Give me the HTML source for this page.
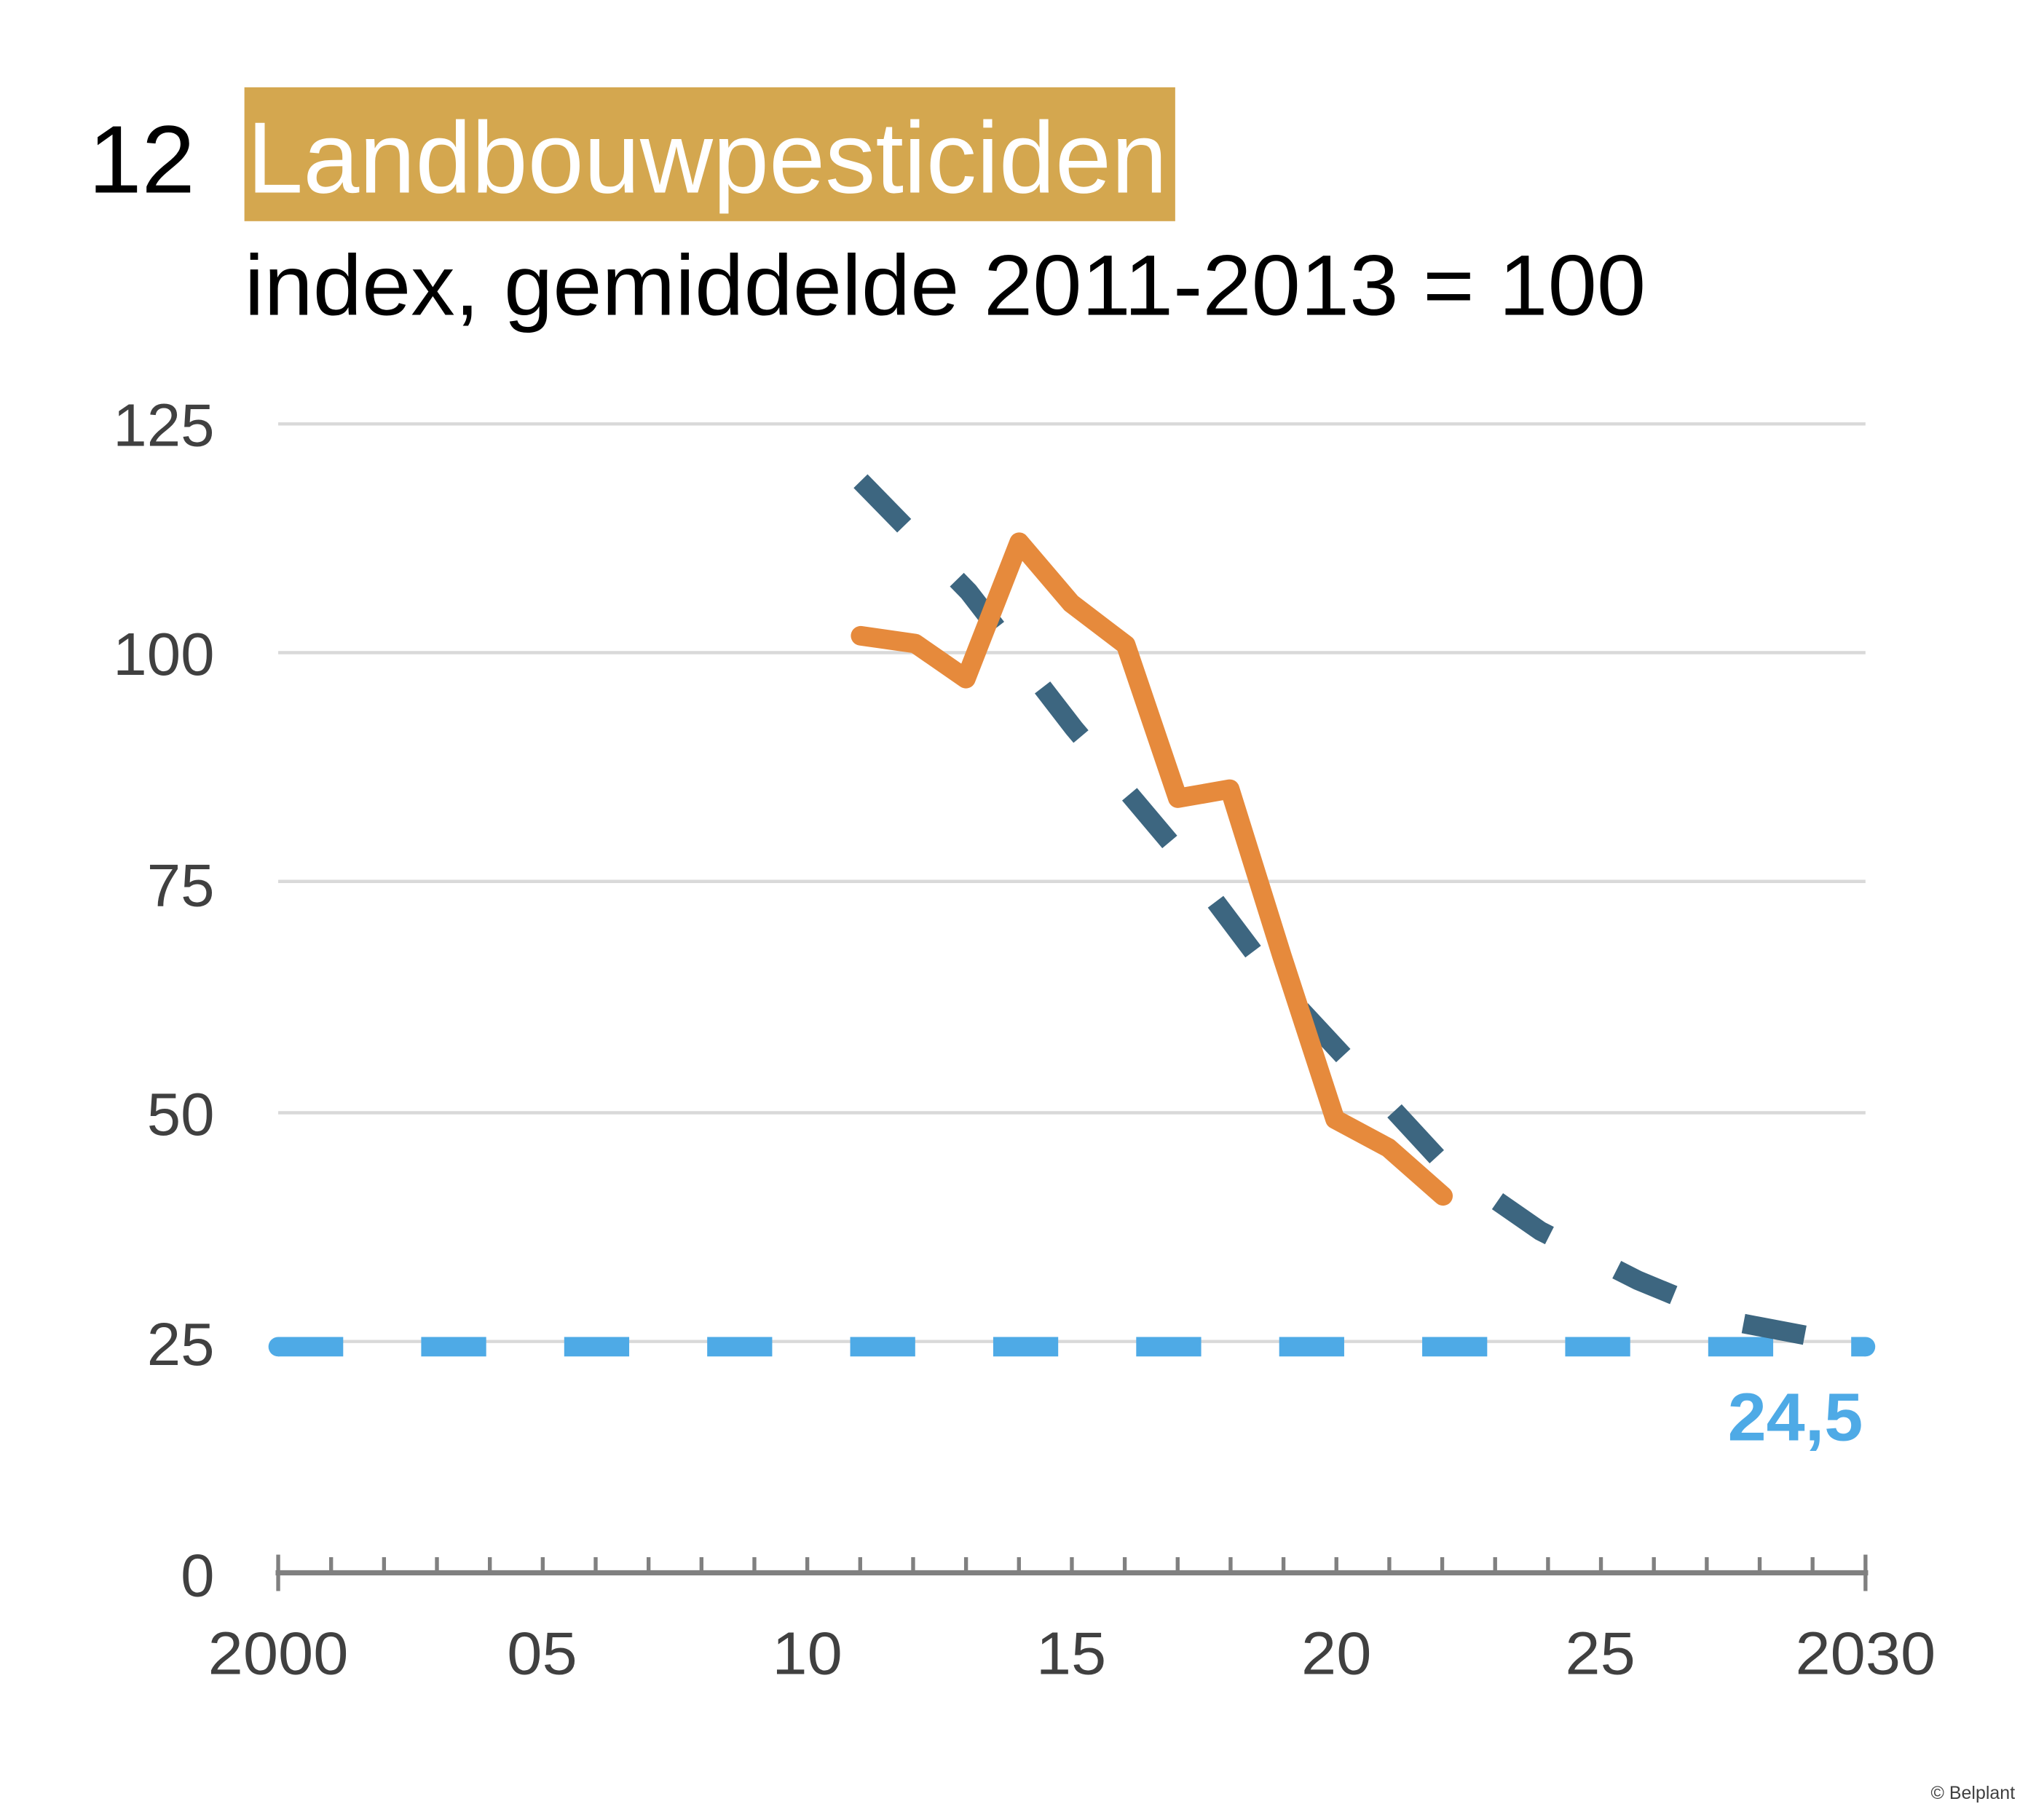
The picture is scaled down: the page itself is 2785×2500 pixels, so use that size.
<!DOCTYPE html>
<html><head><meta charset="utf-8"><style>html,body{margin:0;padding:0;background:#fff}svg{display:block}</style></head>
<body>
<svg width="2785" height="2500" viewBox="0 0 1560 1400" xmlns="http://www.w3.org/2000/svg" font-family="'Liberation Sans', sans-serif">
<rect width="1560" height="1400" fill="#fff"/>
<text x="68" y="148" font-size="74" fill="#000" textLength="82" lengthAdjust="spacingAndGlyphs">12</text>
<rect x="188" y="67" width="716" height="103" fill="#d4a74f"/>
<text x="190" y="148" font-size="78" fill="#fff" textLength="708" lengthAdjust="spacingAndGlyphs">Landbouwpesticiden</text>
<text x="188" y="242" font-size="66" fill="#000" textLength="1078" lengthAdjust="spacingAndGlyphs">index, gemiddelde 2011-2013 = 100</text>
<g stroke="#d9d9d9" stroke-width="2.5">
<line x1="214" y1="326" x2="1435" y2="326"/>
<line x1="214" y1="502" x2="1435" y2="502"/>
<line x1="214" y1="678" x2="1435" y2="678"/>
<line x1="214" y1="856" x2="1435" y2="856"/>
<line x1="214" y1="1032" x2="1435" y2="1032"/>
</g>
<g font-size="46" fill="#404040" text-anchor="end">
<text x="165" y="343" textLength="78" lengthAdjust="spacingAndGlyphs">125</text>
<text x="165" y="519" textLength="78" lengthAdjust="spacingAndGlyphs">100</text>
<text x="165" y="697" textLength="52" lengthAdjust="spacingAndGlyphs">75</text>
<text x="165" y="873" textLength="52" lengthAdjust="spacingAndGlyphs">50</text>
<text x="165" y="1050" textLength="52" lengthAdjust="spacingAndGlyphs">25</text>
<text x="165" y="1228" textLength="26" lengthAdjust="spacingAndGlyphs">0</text>
</g>
<line x1="212" y1="1210" x2="1437" y2="1210" stroke="#808080" stroke-width="4"/>
<g stroke="#808080" stroke-width="3">
<line x1="214" y1="1196" x2="214" y2="1224"/>
<line x1="1435" y1="1196" x2="1435" y2="1224"/>
<path d="M254.7 1198V1210M295.4 1198V1210M336.1 1198V1210M376.8 1198V1210M417.5 1198V1210M458.2 1198V1210M498.9 1198V1210M539.6 1198V1210M580.3 1198V1210M621 1198V1210M661.7 1198V1210M702.4 1198V1210M743.1 1198V1210M783.8 1198V1210M824.5 1198V1210M865.2 1198V1210M905.9 1198V1210M946.6 1198V1210M987.3 1198V1210M1028 1198V1210M1068.7 1198V1210M1109.4 1198V1210M1150.1 1198V1210M1190.8 1198V1210M1231.5 1198V1210M1272.2 1198V1210M1312.9 1198V1210M1353.6 1198V1210M1394.3 1198V1210"/>
</g>
<g font-size="46" fill="#404040" text-anchor="middle">
<text x="214" y="1288" textLength="108" lengthAdjust="spacingAndGlyphs">2000</text>
<text x="417" y="1288" textLength="54" lengthAdjust="spacingAndGlyphs">05</text>
<text x="621" y="1288" textLength="54" lengthAdjust="spacingAndGlyphs">10</text>
<text x="824" y="1288" textLength="54" lengthAdjust="spacingAndGlyphs">15</text>
<text x="1028" y="1288" textLength="54" lengthAdjust="spacingAndGlyphs">20</text>
<text x="1231" y="1288" textLength="54" lengthAdjust="spacingAndGlyphs">25</text>
<text x="1435" y="1288" textLength="108" lengthAdjust="spacingAndGlyphs">2030</text>
</g>
<line x1="214" y1="1036" x2="1435" y2="1036" stroke="#4eaae6" stroke-width="15" stroke-dasharray="50 60" stroke-linecap="butt"/>
<circle cx="214" cy="1036" r="7.5" fill="#4eaae6"/>
<circle cx="1435" cy="1036" r="7.5" fill="#4eaae6"/>
<polyline points="662,370 745,455 826,560 906,655 985,760 1050,830 1110,895 1185,947 1260,985 1340,1018 1435,1036" fill="none" stroke="#3d6680" stroke-width="15" stroke-dasharray="48 58"/>
<polyline points="662,489 704,495 743,522 784,417 824,464 866,496 906,614 946,607 986,735 1027,861 1068,883 1110,920" fill="none" stroke="#e68a3c" stroke-width="15" stroke-linejoin="round" stroke-linecap="round"/>
<text x="1433" y="1108" font-size="52" font-weight="bold" fill="#4eaae6" text-anchor="end" textLength="104" lengthAdjust="spacingAndGlyphs">24,5</text>
<text x="1550" y="1384" font-size="14" fill="#404040" text-anchor="end">© Belplant</text>
</svg>
</body></html>
